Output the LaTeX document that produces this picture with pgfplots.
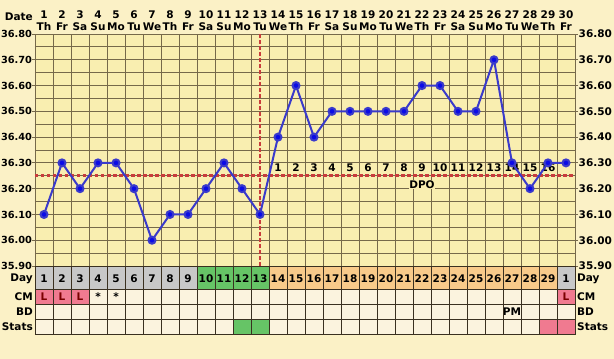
\documentclass[border=0pt]{standalone}
\usepackage{pgfplots}
\pgfplotsset{compat=1.18}
\usepackage{fontspec}
\setmainfont{DejaVu Sans}
\definecolor{bg}{HTML}{FBF1C6}
\definecolor{plotbg}{HTML}{F9EEB0}
\definecolor{gridc}{HTML}{76694A}
\definecolor{tabc}{HTML}{3A3020}
\definecolor{cream}{HTML}{FBF3DE}
\definecolor{graycell}{HTML}{C8C8C8}
\definecolor{greencell}{HTML}{66C466}
\definecolor{orangecell}{HTML}{F8CA8A}
\definecolor{pinkcell}{HTML}{F07A90}
\definecolor{bbtline}{HTML}{3A3ACB}
\definecolor{bbtmark}{HTML}{0B0BE6}
\definecolor{cover}{HTML}{C83C3C}
\definecolor{lred}{HTML}{7A0000}
\newcommand{\cf}{\fontsize{10.5}{12}\selectfont\bfseries}
\newcommand{\tf}{\fontsize{9.8}{12}\selectfont\bfseries}
\pgfplotstableread{
day temp
1 36.10
2 36.30
3 36.20
4 36.30
5 36.30
6 36.20
7 36.00
8 36.10
9 36.10
10 36.20
11 36.30
12 36.20
13 36.10
14 36.40
15 36.60
16 36.40
17 36.50
18 36.50
19 36.50
20 36.50
21 36.50
22 36.60
23 36.60
24 36.50
25 36.50
26 36.70
27 36.30
28 36.20
29 36.30
30 36.30
}\bbt
\begin{document}
\begin{tikzpicture}
\fill[bg] (0,0) rectangle (614pt,359pt);
\begin{axis}[
  at={(35pt,93pt)}, anchor=south west, scale only axis,
  width=540pt, height=232pt,
  xmin=0.5, xmax=30.5, ymin=35.9, ymax=36.8,
  axis background/.style={fill=plotbg},
  xtick={1,...,30},
  xticklabels={{1\\Th},{2\\Fr},{3\\Sa},{4\\Su},{5\\Mo},{6\\Tu},{7\\We},{8\\Th},{9\\Fr},{10\\Sa},{11\\Su},{12\\Mo},{13\\Tu},{14\\We},{15\\Th},{16\\Fr},{17\\Sa},{18\\Su},{19\\Mo},{20\\Tu},{21\\We},{22\\Th},{23\\Fr},{24\\Sa},{25\\Su},{26\\Mo},{27\\Tu},{28\\We},{29\\Th},{30\\Fr}},
  xticklabel pos=top,
  xticklabel style={align=center, font=\cf, inner sep=0pt, yshift=1pt},
  minor xtick={0.5,1.5,...,30.5},
  ytick={35.9,36,36.1,36.2,36.3,36.4,36.5,36.6,36.7,36.8},
  minor ytick={35.95,36.05,36.15,36.25,36.35,36.45,36.55,36.65,36.75},
  yticklabel={\pgfmathprintnumber[fixed,fixed zerofill,precision=2,assume math mode=true]{\tick}},
  yticklabel style={font=\tf, inner sep=0.3pt},
  ytick pos=left, tick align=outside,
  major tick length=2.5pt, minor tick length=0pt,
  xmajorgrids=false, xminorgrids=true, ymajorgrids=true, yminorgrids=true,
  grid style={gridc, line width=0.8pt}, minor grid style={gridc, line width=0.8pt},
  tick style={gridc, line width=0.8pt},
  x tick style={draw=none},
  axis line style={gridc, line width=0.8pt},
  clip=false,
]
\addplot[cover, line width=2.6pt, dash pattern=on 3.5pt off 2.5pt] coordinates {(0.5,36.25) (30.5,36.25)};
\addplot[cover, line width=2.6pt, dash pattern=on 3.5pt off 2.5pt] coordinates {(13,35.9) (13,36.8)};
\pgfplotsinvokeforeach{14,...,29}{
  \node[fill=plotbg, inner sep=0.6pt, font=\cf] at (axis cs:#1,36.283) {\pgfmathparse{int(#1-13)}\pgfmathresult};
}
\node[fill=plotbg, inner sep=0.6pt, font=\cf] at (axis cs:22,36.215) {DPO};
\addplot[bbtline, line width=2pt, mark=*, mark size=3.5pt, mark options={draw=none, fill=bbtmark}] table[x=day, y=temp] {\bbt};
\end{axis}
\begin{axis}[
  at={(35pt,93pt)}, anchor=south west, scale only axis,
  width=540pt, height=232pt,
  xmin=0.5, xmax=30.5, ymin=35.9, ymax=36.8,
  axis line style={draw=none},
  xtick=\empty,
  ytick={35.9,36,36.1,36.2,36.3,36.4,36.5,36.6,36.7,36.8},
  yticklabel={\pgfmathprintnumber[fixed,fixed zerofill,precision=2,assume math mode=true]{\tick}},
  yticklabel style={font=\cf, inner sep=0.5pt},
  ytick pos=right, yticklabel pos=right, tick align=outside,
  major tick length=3pt,
  tick style={gridc, line width=0.8pt},
]
\end{axis}
\begin{axis}[
  at={(35pt,25pt)}, anchor=south west, scale only axis,
  width=540pt, height=68pt,
  xmin=0.5, xmax=30.5, ymin=25, ymax=93,
  axis on top,
  xtick={0.5,1.5,...,30.5}, ytick={25,40,55,70,93},
  xticklabels={}, yticklabels={},
  major tick length=0pt,
  grid=major, grid style={tabc, line width=0.9pt},
  axis line style={tabc, line width=0.9pt},
  clip=false,
]
\fill[cream] (axis cs:0.5,25) rectangle (axis cs:30.5,70);
\fill[graycell] (axis cs:0.5,70) rectangle (axis cs:9.5,93);
\fill[greencell] (axis cs:9.5,70) rectangle (axis cs:13.5,93);
\fill[orangecell] (axis cs:13.5,70) rectangle (axis cs:29.5,93);
\fill[graycell] (axis cs:29.5,70) rectangle (axis cs:30.5,93);
\fill[pinkcell] (axis cs:0.5,55) rectangle (axis cs:3.5,70);
\fill[pinkcell] (axis cs:29.5,55) rectangle (axis cs:30.5,70);
\fill[greencell] (axis cs:11.5,25) rectangle (axis cs:13.5,40);
\fill[pinkcell] (axis cs:28.5,25) rectangle (axis cs:30.5,40);
\pgfplotsinvokeforeach{1,...,29}{
  \node[font=\cf, inner sep=0pt] at (axis cs:#1,80.5) {#1};
}
\node[font=\cf, inner sep=0pt] at (axis cs:30,80.5) {1};
\node[font=\cf, text=lred, inner sep=0pt] at (axis cs:1,62.5) {L};
\node[font=\cf, text=lred, inner sep=0pt] at (axis cs:2,62.5) {L};
\node[font=\cf, text=lred, inner sep=0pt] at (axis cs:3,62.5) {L};
\node[font=\cf, inner sep=0pt] at (axis cs:4,62.5) {*};
\node[font=\cf, inner sep=0pt] at (axis cs:5,62.5) {*};
\node[font=\cf, text=lred, inner sep=0pt] at (axis cs:30,62.5) {L};
\node[font=\cf, inner sep=0pt] at (axis cs:27,47.5) {PM};
\node[font=\cf, anchor=east, inner sep=0pt, xshift=-2pt] at (axis cs:0.5,80.5) {Day};
\node[font=\cf, anchor=east, inner sep=0pt, xshift=-2pt] at (axis cs:0.5,62.5) {CM};
\node[font=\cf, anchor=east, inner sep=0pt, xshift=-2pt] at (axis cs:0.5,47.5) {BD};
\node[font=\cf, anchor=east, inner sep=0pt, xshift=-2pt] at (axis cs:0.5,32.5) {Stats};
\node[font=\cf, anchor=west, inner sep=0pt, xshift=2pt] at (axis cs:30.5,80.5) {Day};
\node[font=\cf, anchor=west, inner sep=0pt, xshift=2pt] at (axis cs:30.5,62.5) {CM};
\node[font=\cf, anchor=west, inner sep=0pt, xshift=2pt] at (axis cs:30.5,47.5) {BD};
\node[font=\cf, anchor=west, inner sep=0pt, xshift=2pt] at (axis cs:30.5,32.5) {Stats};
\end{axis}
\node[font=\cf, anchor=east, inner sep=0pt] at (33pt,342pt) {Date};
\pgfresetboundingbox
\path (0,0) rectangle (614pt,359pt);
\end{tikzpicture}
\end{document}
